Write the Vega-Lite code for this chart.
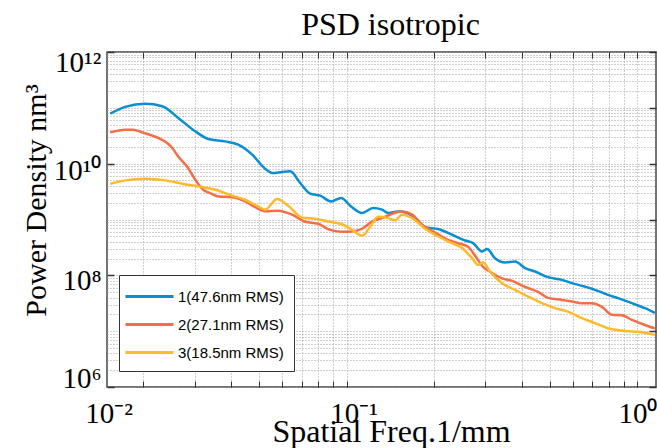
{
  "$schema": "https://vega.github.io/schema/vega-lite/v6.json",
  "width": 549,
  "height": 335,
  "autosize": "none",
  "padding": {"left": 107, "top": 52, "right": 1, "bottom": 61},
  "background": "white",
  "title": {"text": "PSD isotropic", "font": "Liberation Serif", "fontSize": 32, "fontWeight": "normal", "color": "black", "anchor": "middle", "frame": "group", "dx": 9, "offset": -19, "baseline": "alphabetic"},
  "config": {
    "view": {"stroke": "#474747", "strokeWidth": 1.5},
    "axis": {"labelFont": "Liberation Serif", "labelFontSize": 29, "labelColor": "black", "titleFont": "Liberation Serif", "titleColor": "black", "titleFontWeight": "normal", "domain": false},
    "legend": {"labelFont": "Liberation Sans Narrow, Arial Narrow, Liberation Sans", "labelFontSize": 15, "labelColor": "black"}
  },
  "data": {"values": [
    {"s": "1(47.6nm RMS)", "f": 0.01539, "psd": 7.89e10},
    {"s": "1(47.6nm RMS)", "f": 0.01733, "psd": 1.04e11},
    {"s": "1(47.6nm RMS)", "f": 0.02030, "psd": 1.18e11},
    {"s": "1(47.6nm RMS)", "f": 0.02323, "psd": 1.07e11},
    {"s": "1(47.6nm RMS)", "f": 0.02636, "psd": 6.60e10},
    {"s": "1(47.6nm RMS)", "f": 0.03016, "psd": 3.80e10},
    {"s": "1(47.6nm RMS)", "f": 0.03343, "psd": 2.77e10},
    {"s": "1(47.6nm RMS)", "f": 0.03824, "psd": 2.51e10},
    {"s": "1(47.6nm RMS)", "f": 0.04238, "psd": 2.19e10},
    {"s": "1(47.6nm RMS)", "f": 0.04735, "psd": 1.45e10},
    {"s": "1(47.6nm RMS)", "f": 0.05247, "psd": 8.14e9},
    {"s": "1(47.6nm RMS)", "f": 0.05546, "psd": 6.81e9},
    {"s": "1(47.6nm RMS)", "f": 0.06003, "psd": 7.10e9},
    {"s": "1(47.6nm RMS)", "f": 0.06394, "psd": 7.28e9},
    {"s": "1(47.6nm RMS)", "f": 0.06922, "psd": 4.51e9},
    {"s": "1(47.6nm RMS)", "f": 0.07492, "psd": 2.90e9},
    {"s": "1(47.6nm RMS)", "f": 0.08107, "psd": 2.67e9},
    {"s": "1(47.6nm RMS)", "f": 0.08846, "psd": 2.11e9},
    {"s": "1(47.6nm RMS)", "f": 0.09574, "psd": 2.43e9},
    {"s": "1(47.6nm RMS)", "f": 0.1036, "psd": 1.71e9},
    {"s": "1(47.6nm RMS)", "f": 0.1130, "psd": 1.31e9},
    {"s": "1(47.6nm RMS)", "f": 0.1233, "psd": 1.60e9},
    {"s": "1(47.6nm RMS)", "f": 0.1324, "psd": 1.50e9},
    {"s": "1(47.6nm RMS)", "f": 0.1389, "psd": 1.31e9},
    {"s": "1(47.6nm RMS)", "f": 0.1503, "psd": 1.39e9},
    {"s": "1(47.6nm RMS)", "f": 0.1614, "psd": 1.31e9},
    {"s": "1(47.6nm RMS)", "f": 0.1719, "psd": 1.06e9},
    {"s": "1(47.6nm RMS)", "f": 0.1861, "psd": 7.26e8},
    {"s": "1(47.6nm RMS)", "f": 0.2063, "psd": 6.74e8},
    {"s": "1(47.6nm RMS)", "f": 0.2304, "psd": 5.33e8},
    {"s": "1(47.6nm RMS)", "f": 0.2554, "psd": 4.21e8},
    {"s": "1(47.6nm RMS)", "f": 0.2721, "psd": 3.78e8},
    {"s": "1(47.6nm RMS)", "f": 0.2921, "psd": 2.67e8},
    {"s": "1(47.6nm RMS)", "f": 0.3039, "psd": 2.95e8},
    {"s": "1(47.6nm RMS)", "f": 0.3237, "psd": 2.03e8},
    {"s": "1(47.6nm RMS)", "f": 0.3505, "psd": 1.70e8},
    {"s": "1(47.6nm RMS)", "f": 0.3793, "psd": 1.77e8},
    {"s": "1(47.6nm RMS)", "f": 0.4106, "psd": 1.35e8},
    {"s": "1(47.6nm RMS)", "f": 0.4445, "psd": 1.17e8},
    {"s": "1(47.6nm RMS)", "f": 0.4926, "psd": 9.28e7},
    {"s": "1(47.6nm RMS)", "f": 0.5502, "psd": 8.30e7},
    {"s": "1(47.6nm RMS)", "f": 0.5955, "psd": 7.25e7},
    {"s": "1(47.6nm RMS)", "f": 0.6446, "psd": 6.48e7},
    {"s": "1(47.6nm RMS)", "f": 0.7145, "psd": 5.50e7},
    {"s": "1(47.6nm RMS)", "f": 0.7917, "psd": 4.47e7},
    {"s": "1(47.6nm RMS)", "f": 0.8570, "psd": 3.90e7},
    {"s": "1(47.6nm RMS)", "f": 0.9574, "psd": 3.17e7},
    {"s": "1(47.6nm RMS)", "f": 1.061, "psd": 2.58e7},
    {"s": "1(47.6nm RMS)", "f": 1.148, "psd": 2.13e7},
    {"s": "2(27.1nm RMS)", "f": 0.01539, "psd": 3.64e10},
    {"s": "2(27.1nm RMS)", "f": 0.01733, "psd": 4.07e10},
    {"s": "2(27.1nm RMS)", "f": 0.01846, "psd": 4.07e10},
    {"s": "2(27.1nm RMS)", "f": 0.01983, "psd": 3.64e10},
    {"s": "2(27.1nm RMS)", "f": 0.02250, "psd": 2.89e10},
    {"s": "2(27.1nm RMS)", "f": 0.02416, "psd": 2.35e10},
    {"s": "2(27.1nm RMS)", "f": 0.02515, "psd": 1.91e10},
    {"s": "2(27.1nm RMS)", "f": 0.02636, "psd": 1.34e10},
    {"s": "2(27.1nm RMS)", "f": 0.02830, "psd": 8.84e9},
    {"s": "2(27.1nm RMS)", "f": 0.03016, "psd": 5.16e9},
    {"s": "2(27.1nm RMS)", "f": 0.03213, "psd": 3.42e9},
    {"s": "2(27.1nm RMS)", "f": 0.03396, "psd": 2.96e9},
    {"s": "2(27.1nm RMS)", "f": 0.03618, "psd": 2.59e9},
    {"s": "2(27.1nm RMS)", "f": 0.04042, "psd": 2.51e9},
    {"s": "2(27.1nm RMS)", "f": 0.04480, "psd": 2.11e9},
    {"s": "2(27.1nm RMS)", "f": 0.04849, "psd": 1.66e9},
    {"s": "2(27.1nm RMS)", "f": 0.05247, "psd": 1.41e9},
    {"s": "2(27.1nm RMS)", "f": 0.05815, "psd": 1.44e9},
    {"s": "2(27.1nm RMS)", "f": 0.06497, "psd": 1.22e9},
    {"s": "2(27.1nm RMS)", "f": 0.07201, "psd": 9.11e8},
    {"s": "2(27.1nm RMS)", "f": 0.07981, "psd": 8.39e8},
    {"s": "2(27.1nm RMS)", "f": 0.08638, "psd": 6.74e8},
    {"s": "2(27.1nm RMS)", "f": 0.09574, "psd": 6.03e8},
    {"s": "2(27.1nm RMS)", "f": 0.1044, "psd": 6.11e8},
    {"s": "2(27.1nm RMS)", "f": 0.1130, "psd": 6.83e8},
    {"s": "2(27.1nm RMS)", "f": 0.1224, "psd": 9.23e8},
    {"s": "2(27.1nm RMS)", "f": 0.1324, "psd": 1.06e9},
    {"s": "2(27.1nm RMS)", "f": 0.1433, "psd": 1.27e9},
    {"s": "2(27.1nm RMS)", "f": 0.1551, "psd": 1.39e9},
    {"s": "2(27.1nm RMS)", "f": 0.1679, "psd": 1.22e9},
    {"s": "2(27.1nm RMS)", "f": 0.1817, "psd": 8.05e8},
    {"s": "2(27.1nm RMS)", "f": 0.2014, "psd": 5.86e8},
    {"s": "2(27.1nm RMS)", "f": 0.2233, "psd": 4.33e8},
    {"s": "2(27.1nm RMS)", "f": 0.2416, "psd": 3.78e8},
    {"s": "2(27.1nm RMS)", "f": 0.2615, "psd": 3.25e8},
    {"s": "2(27.1nm RMS)", "f": 0.2765, "psd": 2.24e8},
    {"s": "2(27.1nm RMS)", "f": 0.2945, "psd": 1.42e8},
    {"s": "2(27.1nm RMS)", "f": 0.3112, "psd": 1.16e8},
    {"s": "2(27.1nm RMS)", "f": 0.3423, "psd": 8.84e7},
    {"s": "2(27.1nm RMS)", "f": 0.3705, "psd": 7.97e7},
    {"s": "2(27.1nm RMS)", "f": 0.4106, "psd": 6.22e7},
    {"s": "2(27.1nm RMS)", "f": 0.4551, "psd": 5.06e7},
    {"s": "2(27.1nm RMS)", "f": 0.4926, "psd": 3.95e7},
    {"s": "2(27.1nm RMS)", "f": 0.5502, "psd": 3.63e7},
    {"s": "2(27.1nm RMS)", "f": 0.5955, "psd": 3.39e7},
    {"s": "2(27.1nm RMS)", "f": 0.6446, "psd": 3.17e7},
    {"s": "2(27.1nm RMS)", "f": 0.6976, "psd": 3.15e7},
    {"s": "2(27.1nm RMS)", "f": 0.7551, "psd": 2.72e7},
    {"s": "2(27.1nm RMS)", "f": 0.8173, "psd": 1.96e7},
    {"s": "2(27.1nm RMS)", "f": 0.8845, "psd": 1.92e7},
    {"s": "2(27.1nm RMS)", "f": 0.9574, "psd": 1.59e7},
    {"s": "2(27.1nm RMS)", "f": 1.061, "psd": 1.29e7},
    {"s": "2(27.1nm RMS)", "f": 1.148, "psd": 1.12e7},
    {"s": "3(18.5nm RMS)", "f": 0.01539, "psd": 4.38e9},
    {"s": "3(18.5nm RMS)", "f": 0.01733, "psd": 5.02e9},
    {"s": "3(18.5nm RMS)", "f": 0.02030, "psd": 5.38e9},
    {"s": "3(18.5nm RMS)", "f": 0.02378, "psd": 5.02e9},
    {"s": "3(18.5nm RMS)", "f": 0.02721, "psd": 4.38e9},
    {"s": "3(18.5nm RMS)", "f": 0.03187, "psd": 3.82e9},
    {"s": "3(18.5nm RMS)", "f": 0.03533, "psd": 3.42e9},
    {"s": "3(18.5nm RMS)", "f": 0.04042, "psd": 2.67e9},
    {"s": "3(18.5nm RMS)", "f": 0.04480, "psd": 2.26e9},
    {"s": "3(18.5nm RMS)", "f": 0.04965, "psd": 1.71e9},
    {"s": "3(18.5nm RMS)", "f": 0.05247, "psd": 1.50e9},
    {"s": "3(18.5nm RMS)", "f": 0.05770, "psd": 2.33e9},
    {"s": "3(18.5nm RMS)", "f": 0.06295, "psd": 1.76e9},
    {"s": "3(18.5nm RMS)", "f": 0.07033, "psd": 1.08e9},
    {"s": "3(18.5nm RMS)", "f": 0.07793, "psd": 1.03e9},
    {"s": "3(18.5nm RMS)", "f": 0.08638, "psd": 9.23e8},
    {"s": "3(18.5nm RMS)", "f": 0.09650, "psd": 8.22e8},
    {"s": "3(18.5nm RMS)", "f": 0.1044, "psd": 6.55e8},
    {"s": "3(18.5nm RMS)", "f": 0.1130, "psd": 5.11e8},
    {"s": "3(18.5nm RMS)", "f": 0.1205, "psd": 7.41e8},
    {"s": "3(18.5nm RMS)", "f": 0.1283, "psd": 1.12e9},
    {"s": "3(18.5nm RMS)", "f": 0.1389, "psd": 1.06e9},
    {"s": "3(18.5nm RMS)", "f": 0.1468, "psd": 9.62e8},
    {"s": "3(18.5nm RMS)", "f": 0.1551, "psd": 1.22e9},
    {"s": "3(18.5nm RMS)", "f": 0.1679, "psd": 1.06e9},
    {"s": "3(18.5nm RMS)", "f": 0.1861, "psd": 6.83e8},
    {"s": "3(18.5nm RMS)", "f": 0.2014, "psd": 5.33e8},
    {"s": "3(18.5nm RMS)", "f": 0.2233, "psd": 4.04e8},
    {"s": "3(18.5nm RMS)", "f": 0.2494, "psd": 3.08e8},
    {"s": "3(18.5nm RMS)", "f": 0.2700, "psd": 2.03e8},
    {"s": "3(18.5nm RMS)", "f": 0.2830, "psd": 1.54e8},
    {"s": "3(18.5nm RMS)", "f": 0.2945, "psd": 1.71e8},
    {"s": "3(18.5nm RMS)", "f": 0.3112, "psd": 1.17e8},
    {"s": "3(18.5nm RMS)", "f": 0.3423, "psd": 7.25e7},
    {"s": "3(18.5nm RMS)", "f": 0.3793, "psd": 5.50e7},
    {"s": "3(18.5nm RMS)", "f": 0.4205, "psd": 4.17e7},
    {"s": "3(18.5nm RMS)", "f": 0.4696, "psd": 3.17e7},
    {"s": "3(18.5nm RMS)", "f": 0.5206, "psd": 2.58e7},
    {"s": "3(18.5nm RMS)", "f": 0.5770, "psd": 2.24e7},
    {"s": "3(18.5nm RMS)", "f": 0.6446, "psd": 1.71e7},
    {"s": "3(18.5nm RMS)", "f": 0.7145, "psd": 1.39e7},
    {"s": "3(18.5nm RMS)", "f": 0.7917, "psd": 1.13e7},
    {"s": "3(18.5nm RMS)", "f": 0.8845, "psd": 1.02e7},
    {"s": "3(18.5nm RMS)", "f": 0.9804, "psd": 9.81e6},
    {"s": "3(18.5nm RMS)", "f": 1.087, "psd": 9.19e6},
    {"s": "3(18.5nm RMS)", "f": 1.148, "psd": 8.57e6}
  ]},
  "resolve": {"axis": {"x": "independent", "y": "independent"}},
  "layer": [
    {
      "mark": {"type": "line", "opacity": 0},
      "encoding": {
        "x": {"field": "f", "type": "quantitative", "scale": {"type": "log", "domain": [0.015, 1.158], "nice": false},
          "axis": {"orient": "bottom", "offset": 0, "values": [0.02, 0.03, 0.04, 0.05, 0.06, 0.07, 0.08, 0.09, 0.1, 0.2, 0.3, 0.4, 0.5, 0.6, 0.7, 0.8, 0.9, 1], "labels": false, "grid": true, "gridColor": "#a0a0a0", "gridDash": [1, 2], "gridWidth": 1, "ticks": true, "tickSize": -6, "tickColor": "#333333", "tickWidth": 1, "title": null}},
        "y": {"field": "psd", "type": "quantitative", "scale": {"type": "log", "domain": [1e6, 1e12], "nice": false},
          "axis": {"orient": "left", "offset": 0, "values": [1e6, 2e6, 3e6, 4e6, 5e6, 6e6, 7e6, 8e6, 9e6, 1e7, 2e7, 3e7, 4e7, 5e7, 6e7, 7e7, 8e7, 9e7, 1e8, 2e8, 3e8, 4e8, 5e8, 6e8, 7e8, 8e8, 9e8, 1e9, 2e9, 3e9, 4e9, 5e9, 6e9, 7e9, 8e9, 9e9, 1e10, 2e10, 3e10, 4e10, 5e10, 6e10, 7e10, 8e10, 9e10, 1e11, 2e11, 3e11, 4e11, 5e11, 6e11, 7e11, 8e11, 9e11, 1e12], "labels": false, "grid": true, "gridColor": "#a0a0a0", "gridDash": [1, 2], "gridWidth": 1, "ticks": false, "title": null}}
      }
    },
    {
      "mark": {"type": "line", "opacity": 0},
      "encoding": {
        "x": {"field": "f", "type": "quantitative", "scale": {"type": "log", "domain": [0.015, 1.158], "nice": false},
          "axis": {"orient": "top", "offset": 0, "values": [0.02, 0.03, 0.04, 0.05, 0.06, 0.07, 0.08, 0.09, 0.1, 0.2, 0.3, 0.4, 0.5, 0.6, 0.7, 0.8, 0.9, 1], "labels": false, "grid": false, "ticks": true, "tickSize": -6, "tickColor": "#333333", "tickWidth": 1, "title": null}},
        "y": {"field": "psd", "type": "quantitative", "scale": {"type": "log", "domain": [1e6, 1e12], "nice": false},
          "axis": {"orient": "right", "offset": 0, "values": [1e6, 1e7, 1e8, 1e9, 1e10, 1e11, 1e12], "labels": false, "grid": false, "ticks": true, "tickSize": -7, "tickColor": "#333333", "tickWidth": 1.5, "title": null}}
      }
    },
    {
      "mark": {"type": "line", "strokeWidth": 2.5, "interpolate": "monotone"},
      "encoding": {
        "x": {"field": "f", "type": "quantitative", "scale": {"type": "log", "domain": [0.015, 1.158], "nice": false},
          "axis": {"orient": "bottom", "offset": 0, "values": [0.0152, 0.1, 1], "ticks": false, "grid": false, "labelPadding": 35, "labelBaseline": "alphabetic", "labelAlign": "center", "labelFlush": false, "labelOverlap": false,
            "labelOffset": {"condition": {"test": "datum.value > 0.05 && datum.value < 0.5", "value": 7}, "value": 0},
            "labelExpr": "datum.value < 0.05 ? '10⁻²' : (datum.value < 0.5 ? '10⁻¹' : '10⁰')",
            "title": "Spatial Freq.1/mm", "titleFontSize": 32, "titleX": 284, "titleY": 54, "titleBaseline": "alphabetic", "titleAlign": "center"}},
        "y": {"field": "psd", "type": "quantitative", "scale": {"type": "log", "domain": [1e6, 1e12], "nice": false},
          "axis": {"orient": "left", "offset": 0, "values": [1e6, 1e8, 1e10, 1e12], "ticks": true, "tickSize": -7, "tickColor": "#333333", "tickWidth": 1.5, "grid": false, "labelPadding": 13, "labelAlign": "right", "labelBaseline": "middle", "labelFlush": false, "labelOverlap": false,
            "labelOffset": {"condition": [{"test": "datum.value > 1e11", "value": 10}, {"test": "datum.value > 1e9", "value": 7}, {"test": "datum.value > 1e7", "value": 5}], "value": -9},
            "labelExpr": "datum.value > 1e11 ? '10¹²' : (datum.value > 1e9 ? '10¹⁰' : (datum.value > 1e7 ? '10⁸' : '10⁶'))",
            "title": "Power Density nm³", "titleFontSize": 30, "titleAngle": -90, "titleX": -62, "titleY": 148, "titleBaseline": "alphabetic", "titleAlign": "center"}},
        "color": {"field": "s", "type": "nominal",
          "scale": {"domain": ["1(47.6nm RMS)", "2(27.1nm RMS)", "3(18.5nm RMS)"], "range": ["#0a8ed1", "#f56e46", "#ffba2c"]},
          "legend": {"orient": "none", "legendX": 12, "legendY": 223, "title": null, "padding": 10, "strokeColor": "#333333", "fillColor": "white", "rowPadding": 8, "symbolType": "M-1.5,0H3.3", "symbolSize": 400, "symbolStrokeWidth": 3, "labelOffset": 26, "labelLimit": 300}}
      }
    }
  ]
}
